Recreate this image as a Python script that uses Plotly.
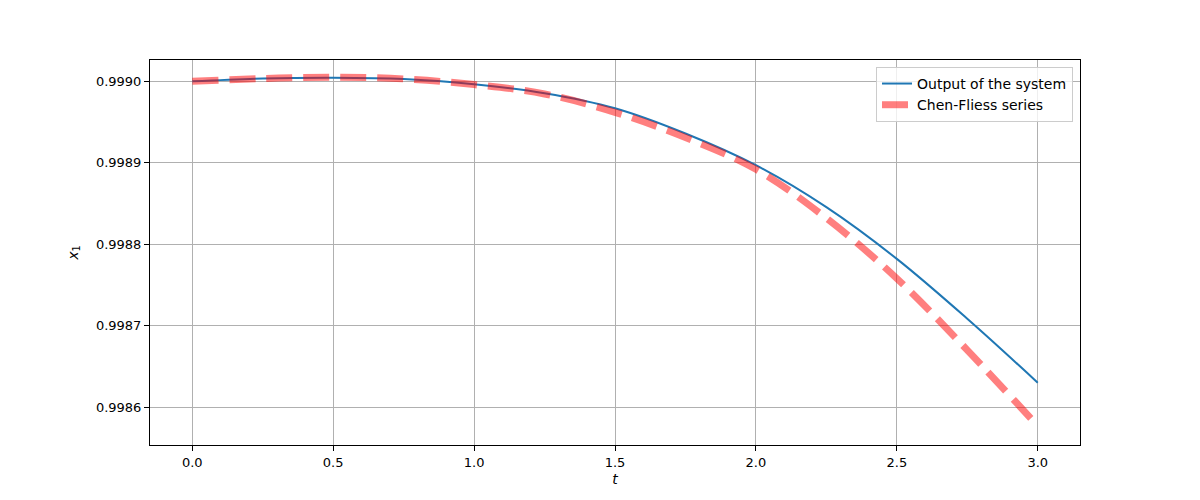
import plotly.graph_objects as go

t_values = [0.0, 0.25, 0.5, 0.75, 1.0, 1.25, 1.5, 1.75, 2.0, 2.25, 2.5, 2.75, 3.0]
system_output = [0.9990000, 0.9990035, 0.9990045, 0.9990030, 0.9989965, 0.9989855,
                 0.9989670, 0.9989360, 0.9988970, 0.9988455, 0.9987820, 0.9987085, 0.9986300]
chen_fliess = [0.9990000, 0.9990035, 0.9990050, 0.9990030, 0.9989960, 0.9989845,
               0.9989620, 0.9989310, 0.9988920, 0.9988320, 0.9987580, 0.9986700, 0.9985770]

series_names = ["Output of the system", "Chen-Fliess series"]
x_ticks = [0.0, 0.5, 1.0, 1.5, 2.0, 2.5, 3.0]
y_ticks = [0.9986, 0.9987, 0.9988, 0.9989, 0.9990]

fig = go.Figure()
fig.add_trace(go.Scatter(
    x=t_values, y=system_output, mode="lines", name=series_names[0],
    line=dict(color="#1f77b4", width=2, shape="spline"),
))
fig.add_trace(go.Scatter(
    x=t_values, y=chen_fliess, mode="lines", name=series_names[1],
    line=dict(color="rgba(255,0,0,0.5)", width=7, dash="26px,11px", shape="spline"),
))

axis_common = dict(
    showline=True, linecolor="black", linewidth=1, mirror=True,
    ticks="outside", ticklen=5, tickcolor="black", tickwidth=1,
    showgrid=True, gridcolor="#b0b0b0", gridwidth=1, zeroline=False,
    tickfont=dict(family="DejaVu Sans", size=13, color="black"),
)

fig.update_layout(
    width=1200, height=500,
    margin=dict(l=142, r=128, t=52, b=63),
    paper_bgcolor="white", plot_bgcolor="white",
    font=dict(family="DejaVu Sans", size=13, color="black"),
    xaxis=dict(range=[-0.15, 3.15], tickvals=x_ticks,
               ticktext=[f"{v:.1f}" for v in x_ticks],
               title=dict(text="<i>t</i>", standoff=5, font=dict(size=14)),
               **axis_common),
    yaxis=dict(range=[0.9985535, 0.9990262], tickvals=y_ticks,
               ticktext=[f"{v:.4f}" for v in y_ticks],
               title=dict(text="<i>x</i><sub>1</sub>", standoff=14, font=dict(size=14)),
               **axis_common),
    legend=dict(x=0.9925, y=0.982, xanchor="right", yanchor="top",
                bgcolor="rgba(255,255,255,0.8)", bordercolor="#cccccc", borderwidth=1,
                font=dict(family="DejaVu Sans", size=14), itemwidth=30,
                tracegroupgap=0),
    showlegend=True,
)

fig.write_html("out.html")
